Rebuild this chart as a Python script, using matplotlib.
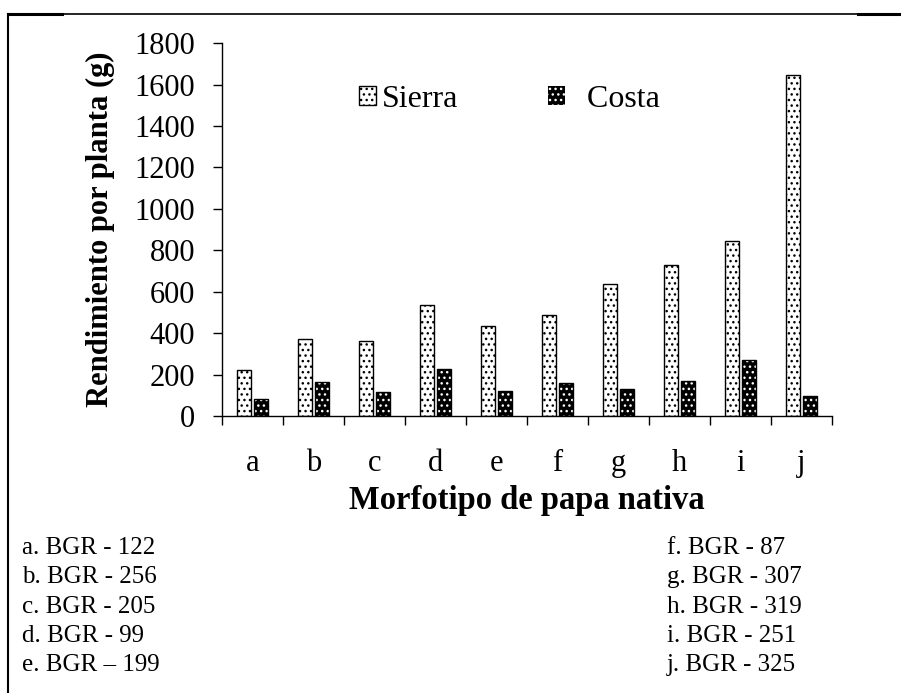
import numpy as np
import matplotlib
matplotlib.use("Agg")
import matplotlib.pyplot as plt
from matplotlib.patches import Patch
from matplotlib.lines import Line2D

plt.rcParams['font.family'] = ['Liberation Serif', 'DejaVu Serif']
plt.rcParams['hatch.linewidth'] = 1.0

# rendimiento por planta (g) de cada morfotipo
morfotipos = ["a", "b", "c", "d", "e", "f", "g", "h", "i", "j"]
sierra = [222, 372, 362, 536, 433, 486, 638, 729, 845, 1645]
costa = [82, 163, 115, 226, 119, 158, 132, 169, 269, 97]
accesiones = ["a. BGR - 122", "b. BGR - 256", "c. BGR - 205", "d. BGR - 99",
              "e. BGR \u2013 199", "f. BGR - 87", "g. BGR - 307", "h. BGR - 319",
              "i. BGR - 251", "j. BGR - 325"]

fig = plt.figure(figsize=(9.01, 6.93), dpi=100)
ax = fig.add_axes([0.2464, 0.3997, 0.677, 0.538])

x = np.arange(len(morfotipos)) + 0.5
w = 0.23
off = 0.145

ax.bar(x - off, sierra, w, facecolor="white", edgecolor="black", hatch="...", linewidth=1.0)
ax.bar(x + off, costa, w, facecolor="black", edgecolor="white", hatch="...", linewidth=0)
ax.bar(x + off, costa, w, fill=False, edgecolor="black", linewidth=1.0)

ax.set_xlim(0, 10)
ax.set_ylim(0, 1800)
ax.set_yticks(np.arange(0, 1801, 200))
ax.set_xticks(np.arange(0, 11))
ax.set_xticklabels([])
ax.set_xticks(x, minor=True)
ax.set_xticklabels(morfotipos, minor=True)
ax.tick_params(axis="x", which="major", direction="out", length=6.5, width=1)
ax.tick_params(axis="x", which="minor", length=0, pad=24, labelsize=22)
ax.tick_params(axis="y", direction="out", length=6.5, width=1, pad=13, labelsize=22)

for s in ["top", "right"]:
    ax.spines[s].set_visible(False)
for s in ["left", "bottom"]:
    ax.spines[s].set_linewidth(1.0)

ax.set_xlabel("Morfotipo de papa nativa", fontsize=23.5, fontweight="bold", labelpad=5)
ax.set_ylabel("Rendimiento por planta (g)", fontsize=22, fontweight="bold", labelpad=14)

handles = [Patch(facecolor="white", edgecolor="black", hatch="...", linewidth=1.0),
           Patch(facecolor="black", edgecolor="white", hatch="...", linewidth=0)]
ax.legend(handles, ["Sierra", "\u2002Costa"], ncol=2, frameon=False, fontsize=23,
          loc="center left", bbox_to_anchor=(0.2246, 0.85),
          borderaxespad=0, borderpad=0,
          handlelength=0.53, handleheight=0.53, handletextpad=0.2, columnspacing=2.8)

# listado de accesiones bajo el grafico
ys = [548, 577, 607, 636, 665]
for i, t in enumerate(accesiones):
    col = i // 5
    xx = 22 if col == 0 else 667
    fig.text(xx / 901, 1 - ys[i % 5] / 693, t, fontsize=18, va="center", ha="left")

# marco exterior
fig.add_artist(Line2D([8 / 901, 8 / 901], [1 - 14 / 693, 0], color="black", lw=1.5))
fig.add_artist(Line2D([8 / 901, 1], [1 - 14 / 693, 1 - 14 / 693], color="black", lw=1.2))
fig.add_artist(Line2D([8 / 901, 62 / 901], [1 - 14 / 693, 1 - 14 / 693], color="black", lw=2.2))
fig.add_artist(Line2D([858 / 901, 1], [1 - 14 / 693, 1 - 14 / 693], color="black", lw=2.2))

fig.savefig("out.png", dpi=100)
